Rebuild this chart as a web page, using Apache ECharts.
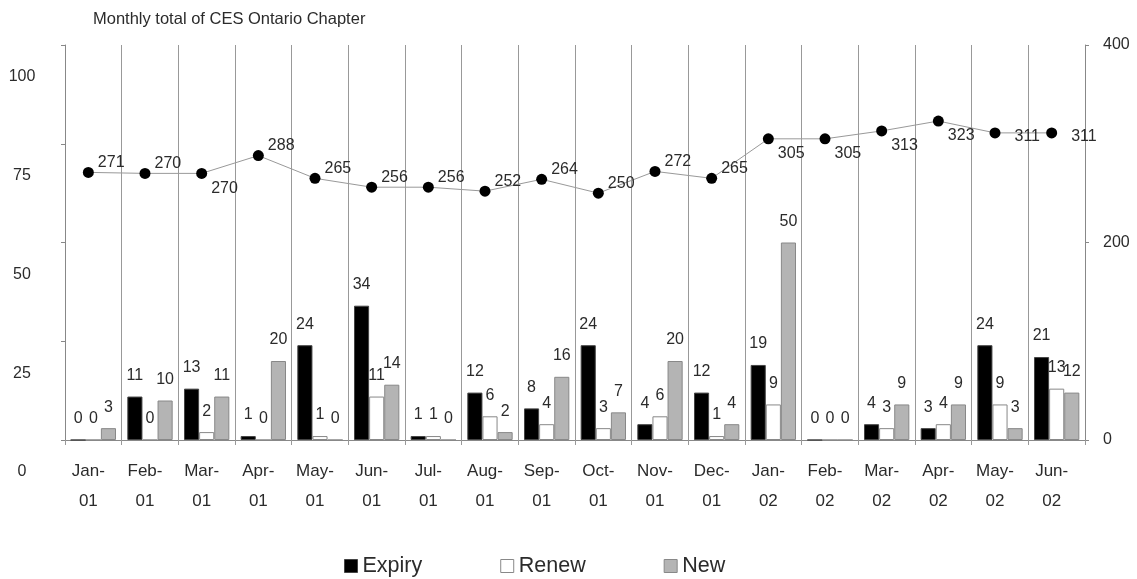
<!DOCTYPE html>
<html>
<head>
<meta charset="utf-8">
<script src="https://cdn.jsdelivr.net/npm/echarts@6/dist/echarts.min.js"></script>
<style>
  html, body { margin: 0; padding: 0; background: #fff; }
  #chart { width: 1137px; height: 579px; }
</style>
</head>
<body>
<div id="chart"></div>
<script>
var months = ['Jan-\n01', 'Feb-\n01', 'Mar-\n01', 'Apr-\n01', 'May-\n01', 'Jun-\n01', 'Jul-\n01',
    'Aug-\n01', 'Sep-\n01', 'Oct-\n01', 'Nov-\n01', 'Dec-\n01', 'Jan-\n02', 'Feb-\n02',
    'Mar-\n02', 'Apr-\n02', 'May-\n02', 'Jun-\n02'];
var expiry = [0, 11, 13, 1, 24, 34, 1, 12, 8, 24, 4, 12, 19, 0, 4, 3, 24, 21];
var renew  = [0, 0, 2, 0, 1, 11, 1, 6, 4, 3, 6, 1, 9, 0, 3, 4, 9, 13];
var newer  = [3, 10, 11, 20, 0, 14, 0, 2, 16, 7, 20, 4, 50, 0, 9, 9, 3, 12];
var total  = [271, 270, 270, 288, 265, 256, 256, 252, 264, 250, 272, 265, 305, 305, 313, 323, 311, 311];

// label placement for the total line (-1 above, 1 below, 0 level)
var totalLabelSide = [-1, -1, 1, -1, -1, -1, -1, -1, -1, -1, -1, -1, 1, 1, 1, 1, 0, 0];

var font = 'Liberation Sans, Arial, sans-serif';
var txt = '#2b2b2b';

var totalData = total.map(function (v, i) {
    var s = totalLabelSide[i];
    return {
        value: v,
        label: { offset: s === 0 ? [10, 4] : [0, s < 0 ? -10 : 15] }
    };
});

function barLabel() {
    return { show: true, position: 'top', distance: 13, fontSize: 16, color: txt, fontFamily: font };
}

var chart = echarts.init(document.getElementById('chart'));
chart.setOption({
    animation: false,
    backgroundColor: '#fff',
    title: {
        text: 'Monthly total of CES Ontario Chapter',
        left: 88,
        top: 6,
        textStyle: { fontSize: 16.5, fontWeight: 'normal', color: txt, fontFamily: font }
    },
    legend: {
        top: 550,
        left: 339,
        itemGap: 78,
        itemWidth: 13,
        itemHeight: 13,
        itemStyle: { borderWidth: 1 },
        icon: 'rect',
        textStyle: { fontSize: 21.5, color: txt, fontFamily: font },
        data: ['Expiry', 'Renew', 'New']
    },
    grid: [
        { left: 65, right: 52, top: 45, bottom: 139, outerBoundsMode: 'none' },
        // labels and the total line sit a few pixels left of the bars in the source
        { left: 60, right: 57, top: 45, bottom: 139, outerBoundsMode: 'none' }
    ],
    xAxis: [
        {
            type: 'category',
            data: months,
            axisLine: { lineStyle: { color: '#888' } },
            axisTick: { show: true, length: 5, lineStyle: { color: '#999' } },
            splitLine: { show: true, lineStyle: { color: '#999', width: 1 } },
            axisLabel: { show: false }
        },
        {
            type: 'category', data: months, gridIndex: 1,
            axisLine: { show: false }, axisTick: { show: false }, splitLine: { show: false },
            axisLabel: { fontSize: 17, color: txt, fontFamily: font, lineHeight: 30, margin: 16, interval: 0 }
        }
    ],
    yAxis: [
        {
            type: 'value', min: 0, max: 100, interval: 25,
            axisLine: { show: true, lineStyle: { color: '#888' } },
            axisTick: { show: true, length: 4, lineStyle: { color: '#888' } },
            splitLine: { show: false },
            // the source prints these labels well below their ticks
            axisLabel: {
                fontSize: 16, color: txt, fontFamily: font, margin: 43, align: 'center',
                verticalAlign: 'top', lineHeight: 64,
                showMinLabel: true, showMaxLabel: true, hideOverlap: false
            }
        },
        {
            type: 'value', min: 0, max: 400, interval: 200,
            axisLine: { show: true, lineStyle: { color: '#888' } },
            axisTick: { show: true, length: 4, lineStyle: { color: '#888' } },
            splitLine: { show: false },
            axisLabel: { fontSize: 16, color: txt, fontFamily: font, margin: 18 }
        },
        { type: 'value', min: 0, max: 400, interval: 200, gridIndex: 1, show: false, splitLine: { show: false } }
    ],
    series: [
        {
            name: 'Expiry', type: 'bar', data: expiry, yAxisIndex: 0,
            barGap: '0%', barCategoryGap: '20%',
            itemStyle: { color: '#000', borderColor: '#444', borderWidth: 1 },
            label: barLabel()
        },
        {
            name: 'Renew', type: 'bar', data: renew, yAxisIndex: 0,
            itemStyle: { color: '#fff', borderColor: '#888', borderWidth: 1 },
            label: barLabel()
        },
        {
            name: 'New', type: 'bar', data: newer, yAxisIndex: 0,
            itemStyle: { color: '#b4b4b4', borderColor: '#888', borderWidth: 1 },
            label: barLabel()
        },
        {
            name: 'Total', type: 'line', data: totalData, xAxisIndex: 1, yAxisIndex: 2,
            symbol: 'circle', symbolSize: 11,
            lineStyle: { color: '#999', width: 1 },
            itemStyle: { color: '#000' },
            label: { show: true, position: 'right', distance: 4, fontSize: 16, color: txt, fontFamily: font },
            z: 5
        }
    ]
});
</script>
</body>
</html>
